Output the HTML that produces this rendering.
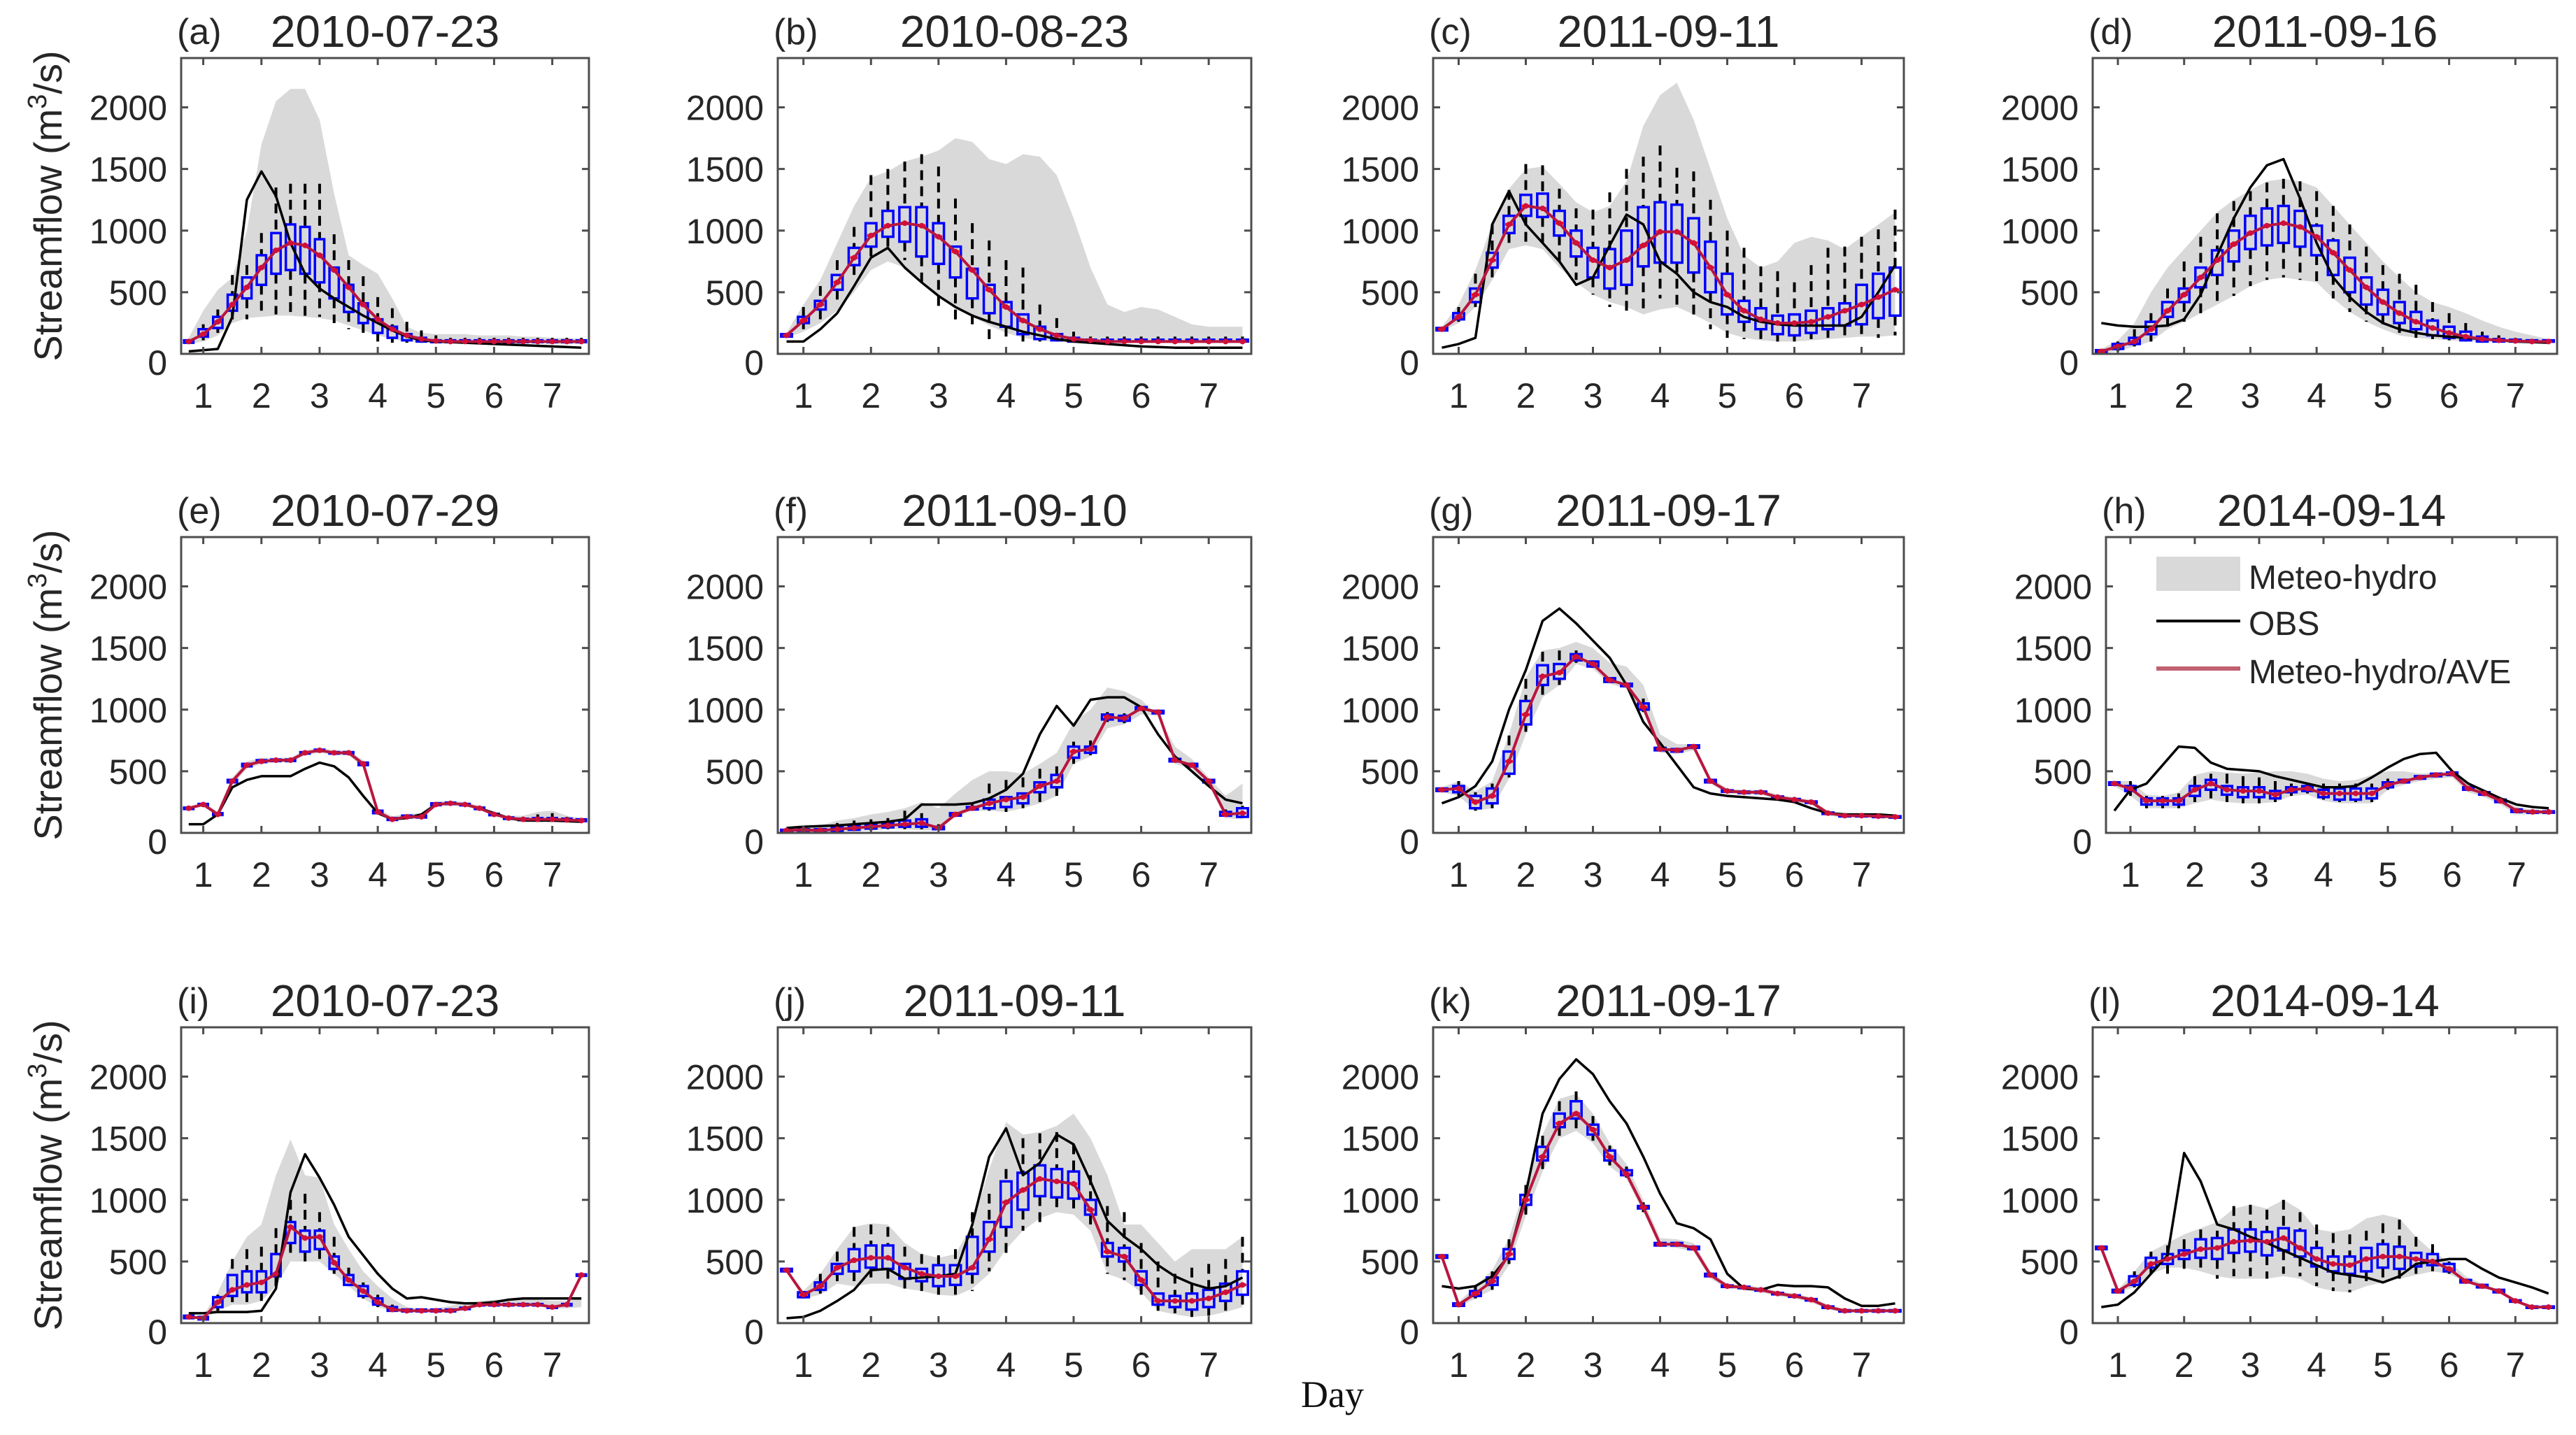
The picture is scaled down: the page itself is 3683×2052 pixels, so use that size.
<!DOCTYPE html>
<html><head><meta charset="utf-8"><style>
html,body{margin:0;padding:0;background:#fff;}
svg{display:block;}
text{font-family:"Liberation Sans",sans-serif;fill:#262626;}
</style></head><body>
<svg id="fig" width="3683" height="2052" viewBox="0 0 3683 2052" xmlns="http://www.w3.org/2000/svg">
<rect width="3683" height="2052" fill="#fff"/>
<text x="1905" y="2012" text-anchor="middle" style="font-family:'Liberation Serif',serif;font-size:54px;fill:#111">Day</text>
</svg>
<script>
const times=[0.75,1,1.25,1.5,1.75,2,2.25,2.5,2.75,3,3.25,3.5,3.75,4,4.25,4.5,4.75,5,5.25,5.5,5.75,6,6.25,6.5,6.75,7,7.25,7.5];
const xTicks=[1,2,3,4,5,6,7];
const yTicks=[0,500,1000,1500,2000];
const titles=["2010-07-23","2010-08-23","2011-09-11","2011-09-16","2010-07-29","2011-09-10","2011-09-17","2014-09-14","2010-07-23","2011-09-11","2011-09-17","2014-09-14"];
const letters=["(a)","(b)","(c)","(d)","(e)","(f)","(g)","(h)","(i)","(j)","(k)","(l)"];

const aObs=[20,30,40,300,1250,1480,1280,900,650,530,450,380,310,250,190,140,110,100,95,90,85,80,75,70,65,60,55,50];
const aAve=[100,160,260,400,540,700,840,900,880,800,680,540,400,280,200,150,120,105,100,100,100,100,100,100,100,100,100,100];
const aQ1=[90,140,210,350,450,560,650,680,650,580,450,340,250,170,130,110,100,95,95,95,95,95,95,95,95,95,95,95];
const aQ3=[110,200,300,480,620,800,980,1050,1030,930,700,560,410,280,220,160,130,110,110,110,110,110,110,110,110,110,110,110];
const aWlo=[80,110,170,280,280,300,320,330,300,300,250,200,150,100,90,90,90,90,90,90,90,90,90,90,90,90,90,90];
const aWhi=[120,240,360,640,720,980,1350,1380,1380,1380,970,760,630,460,370,260,190,150,130,130,130,130,130,130,130,130,130,130];
const aLo=[80,100,150,250,290,300,310,310,300,290,270,230,190,150,120,100,95,90,90,90,90,90,85,85,85,80,80,80];
const aHi=[130,350,520,620,1000,1700,2050,2150,2150,1900,1300,800,720,650,450,220,170,160,160,160,150,150,150,140,140,130,130,120];

const bObs=[100,100,200,330,550,780,860,700,580,470,380,310,260,220,180,150,120,100,90,80,70,60,55,50,50,50,50,50];
const bAve=[150,270,400,580,780,960,1040,1060,1040,950,830,680,520,380,270,200,150,120,110,100,100,100,100,100,100,100,100,100];
const bQ1=[140,250,360,520,720,870,950,910,790,730,620,450,330,220,160,120,110,100,100,100,100,100,100,100,100,100,100,100];
const bQ3=[160,300,430,640,860,1060,1160,1190,1190,1060,870,690,560,420,320,220,160,130,115,115,115,115,115,115,115,115,115,115];
const bWlo=[130,200,280,400,600,760,840,760,570,380,250,200,120,100,100,100,100,100,95,95,95,95,95,95,95,95,95,95];
const bWhi=[170,380,550,760,1030,1450,1500,1560,1620,1520,1260,1060,920,760,700,400,290,180,140,140,140,140,140,140,140,140,140,140];
const bLo=[130,180,250,350,500,680,750,700,600,480,380,300,230,170,130,110,100,95,90,90,90,90,90,90,90,90,90,90];
const bHi=[170,400,600,900,1200,1430,1480,1560,1600,1650,1750,1720,1580,1540,1620,1600,1450,1100,700,400,340,380,360,300,240,220,220,220];

const cObs=[50,80,130,1050,1320,1050,900,750,560,620,880,1130,1050,750,650,500,420,380,300,260,240,230,230,230,230,300,500,720];
const cAve=[200,300,480,760,1050,1200,1180,1060,900,760,700,760,880,990,990,900,700,480,350,280,250,250,260,300,350,400,460,520];
const cQ1=[190,280,420,700,980,1120,1110,960,790,620,530,560,710,740,740,660,500,320,260,200,160,150,170,200,230,240,290,310];
const cQ3=[210,330,530,820,1120,1290,1300,1160,1000,860,850,1000,1190,1230,1210,1100,910,650,430,370,310,320,350,370,410,560,650,700];
const cWlo=[180,260,380,600,880,900,850,700,600,480,380,300,350,450,380,300,200,130,120,100,100,100,120,130,130,160,130,150];
const cWhi=[220,380,650,1050,1330,1540,1530,1340,1180,1170,1310,1500,1600,1690,1510,1480,1250,1000,860,710,670,580,720,860,870,950,1010,1170];
const cLo=[180,250,380,600,850,880,850,700,580,480,420,380,320,360,380,320,250,170,130,110,100,100,110,120,130,140,140,150];
const cHi=[220,400,680,1050,1340,1500,1520,1380,1230,1150,1200,1400,1850,2100,2200,1900,1500,1100,800,700,750,900,950,920,850,950,1050,1150];

const dObs=[250,230,220,220,230,280,480,800,1100,1350,1530,1580,1260,900,620,460,340,250,200,170,150,140,130,120,110,100,95,90];
const dAve=[20,60,100,200,350,480,620,760,890,980,1040,1060,1030,950,820,680,540,420,330,260,210,170,140,120,110,105,100,100];
const dQ1=[10,40,80,160,300,420,540,640,750,850,880,900,870,800,640,500,400,320,250,200,150,130,110,100,100,100,100,100];
const dQ3=[30,80,130,260,420,530,700,840,1000,1120,1180,1200,1160,1040,920,780,620,520,420,340,270,220,180,140,120,115,110,110];
const dWlo=[5,20,60,100,200,260,330,400,470,550,600,620,600,580,450,340,260,200,150,130,120,110,100,100,95,95,95,95];
const dWhi=[40,100,200,330,530,750,950,1140,1240,1320,1390,1420,1400,1320,1200,1050,870,720,650,560,420,330,250,180,150,130,120,120];
const dLo=[5,20,60,100,200,260,330,400,470,550,600,620,600,580,450,340,260,200,150,130,120,110,100,100,95,95,90,90];
const dHi=[40,110,250,500,700,850,1000,1150,1250,1330,1400,1420,1400,1350,1200,1050,900,750,620,500,420,380,330,270,220,180,150,120];

const eObs=[70,70,150,370,430,460,460,460,520,570,540,450,300,160,110,120,150,230,240,230,200,160,120,100,100,100,95,90];
const eAve=[200,230,150,420,550,580,590,590,650,670,650,650,560,170,110,130,130,230,240,230,200,150,120,110,110,110,105,100];
const eQ1=[195,225,145,410,540,575,585,585,645,665,645,645,550,160,105,125,125,225,235,225,195,145,115,105,100,100,100,95];
const eQ3=[205,235,160,430,560,590,595,595,655,675,655,655,570,180,120,140,140,240,245,235,205,155,125,115,120,120,115,110];
const eWlo=[190,220,140,400,530,570,580,580,640,660,640,640,540,150,100,120,120,220,230,220,190,140,110,100,90,90,95,90];
const eWhi=[210,240,170,440,570,600,600,600,660,680,660,660,580,190,130,150,150,250,250,240,210,160,130,130,150,160,130,120];
const eLo=[190,220,140,390,520,560,570,570,630,650,630,630,530,150,100,115,115,215,225,215,185,140,110,100,90,90,90,90];
const eHi=[215,245,175,450,580,610,610,610,670,690,670,670,590,200,135,155,160,255,260,250,220,170,140,140,170,180,140,120];

const fObs=[40,50,55,60,70,80,90,110,230,230,230,240,280,350,480,800,1030,870,1080,1100,1100,1020,800,620,500,380,270,240];
const fAve=[20,25,20,30,40,50,60,70,80,40,150,200,240,270,290,380,420,660,680,940,930,1010,980,590,550,420,150,160];
const fQ1=[15,20,10,15,25,35,45,50,50,30,140,190,200,210,240,330,370,610,650,920,910,1000,970,580,540,410,140,130];
const fQ3=[25,30,30,45,60,70,80,100,110,50,160,210,270,290,320,410,470,700,700,960,950,1020,990,600,560,430,170,200];
const fWlo=[10,15,5,10,15,20,30,30,30,20,130,180,180,170,200,240,300,560,630,900,890,990,960,570,530,400,130,120];
const fWhi=[30,40,40,80,100,110,120,180,160,70,170,230,400,430,450,520,540,740,750,980,970,1030,1000,610,570,440,190,220];
const fLo=[10,15,5,10,15,20,30,30,20,20,130,180,180,170,200,240,300,560,620,850,880,960,950,560,520,390,120,110];
const fHi=[40,50,60,100,120,150,170,200,250,200,320,430,500,500,480,560,650,900,1000,1180,1150,1080,950,700,600,450,300,400];

const gObs=[240,290,380,580,1000,1320,1720,1820,1700,1560,1420,1200,900,730,550,370,320,300,290,280,270,250,200,160,150,150,150,140];
const gAve=[350,360,250,300,580,960,1270,1300,1430,1370,1240,1200,1020,680,670,700,420,340,330,330,290,270,250,160,140,140,135,130];
const gQ1=[340,330,200,240,480,880,1200,1250,1400,1350,1225,1190,1000,670,660,690,410,335,325,325,285,265,245,155,135,135,130,125];
const gQ3=[360,380,300,360,660,1070,1360,1370,1450,1390,1255,1210,1050,690,680,710,430,345,335,335,295,275,255,165,145,145,140,135];
const gWlo=[330,300,180,200,450,820,1100,1200,1380,1340,1220,1180,980,660,650,680,400,330,320,320,280,260,240,150,130,130,125,120];
const gWhi=[370,420,330,400,790,1250,1470,1480,1480,1400,1260,1220,1090,700,690,720,440,350,340,340,300,280,260,170,150,150,145,140];
const gLo=[330,300,180,200,440,800,1100,1200,1370,1330,1210,1170,980,650,640,670,400,320,310,310,270,250,230,140,125,125,120,115];
const gHi=[370,420,340,420,800,1260,1480,1500,1550,1500,1380,1350,1200,800,720,720,450,360,350,350,310,290,270,180,160,155,150,145];

const hObs=[180,350,400,550,700,690,570,520,510,500,460,430,400,370,370,380,450,530,600,640,650,500,400,340,280,230,210,200];
const hAve=[400,360,260,260,260,350,400,350,340,340,310,350,360,320,320,320,320,390,420,450,470,480,360,320,260,180,170,170];
const hQ1=[390,340,230,230,230,300,350,310,290,290,280,330,340,290,270,270,280,370,410,440,460,470,350,310,250,170,165,165];
const hQ3=[410,380,280,280,280,380,430,380,370,370,340,370,380,350,360,360,360,410,430,460,480,490,370,330,270,190,175,175];
const hWlo=[380,300,200,200,200,250,280,250,240,240,250,300,320,270,250,250,250,350,400,430,450,460,340,300,240,160,160,160];
const hWhi=[420,420,300,300,320,460,480,480,460,450,420,400,400,400,400,400,400,440,440,470,490,500,380,340,280,200,180,180];
const hLo=[380,300,200,200,200,240,270,250,240,240,250,300,310,260,240,240,240,350,390,420,440,450,330,290,230,150,150,150];
const hHi=[420,420,310,300,330,470,500,490,480,490,500,500,480,440,420,430,470,500,500,480,490,500,390,350,290,210,190,180];

const iObs=[80,80,90,90,90,100,280,1060,1370,1180,960,700,550,400,280,200,210,190,170,160,160,170,190,200,200,200,200,200];
const iAve=[50,40,170,270,310,330,400,780,690,700,490,350,260,170,110,100,100,100,100,120,150,150,150,150,150,130,150,390];
const iQ1=[40,30,130,220,250,250,380,650,580,600,440,310,220,150,100,95,95,95,95,115,145,145,145,145,145,125,145,385];
const iQ3=[60,50,210,390,420,420,560,820,750,750,540,390,300,200,130,110,110,110,110,125,155,155,155,155,155,135,155,395];
const iWlo=[35,25,100,170,150,180,300,520,500,500,400,300,200,130,95,90,90,90,90,110,140,140,140,140,140,120,140,380];
const iWhi=[65,55,230,520,600,620,770,1000,1050,900,700,450,330,230,150,120,120,120,120,130,160,160,160,160,160,140,160,400];
const iLo=[40,30,100,150,150,180,300,500,500,500,400,300,200,130,100,90,90,90,100,110,130,140,140,140,140,120,120,130];
const iHi=[60,60,250,500,700,800,1200,1490,1200,1180,800,600,420,300,200,130,120,120,140,170,180,190,190,200,190,180,180,200];

const jObs=[40,50,100,180,270,430,440,360,370,380,400,800,1350,1580,1200,1300,1530,1450,1150,830,700,600,470,380,320,280,300,370];
const jAve=[430,230,300,450,510,530,530,450,400,380,380,450,680,980,1080,1170,1150,1130,920,580,540,350,180,180,180,200,250,310];
const jQ1=[420,210,270,400,420,450,440,360,340,300,310,400,580,780,920,1030,1020,1010,880,540,500,310,150,130,110,130,180,230];
const jQ3=[440,250,330,480,600,630,630,480,440,470,470,700,820,1150,1220,1280,1250,1230,1000,650,610,420,240,220,240,270,320,420];
const jWlo=[410,200,240,340,300,330,330,280,260,230,210,260,420,570,750,820,900,880,750,400,350,220,100,80,50,60,90,130];
const jWhi=[450,260,400,580,780,800,780,620,560,550,600,900,1050,1250,1500,1540,1550,1450,1200,950,900,650,500,400,450,480,520,700];
const jLo=[420,200,230,320,300,320,320,280,260,230,220,280,400,600,750,850,900,880,750,400,350,250,100,70,50,60,90,130];
const jHi=[440,260,400,600,780,810,800,650,560,530,560,800,1250,1630,1530,1550,1600,1700,1500,1200,800,800,650,500,600,600,600,700];

const kObs=[300,280,300,380,550,1050,1700,1980,2140,2020,1800,1620,1350,1050,810,770,680,400,280,270,310,300,300,290,200,140,140,160];
const kAve=[540,150,240,340,560,1000,1350,1620,1700,1570,1350,1210,940,640,640,610,390,300,290,270,240,220,190,130,100,100,100,100];
const kQ1=[530,140,220,310,520,960,1320,1590,1660,1530,1320,1200,930,630,630,600,380,295,285,265,235,215,185,125,95,95,95,95];
const kQ3=[550,160,260,370,600,1040,1430,1700,1800,1610,1400,1240,950,650,650,620,400,305,295,275,245,225,195,135,105,105,105,105];
const kWlo=[520,130,200,270,480,880,1250,1520,1580,1480,1280,1180,900,620,620,590,370,290,280,260,230,210,180,120,90,90,90,90];
const kWhi=[560,170,300,420,680,1120,1520,1800,1880,1680,1440,1270,980,660,660,630,410,310,300,280,250,230,200,140,110,110,110,110];
const kLo=[520,130,200,270,470,870,1230,1500,1560,1460,1270,1170,900,620,610,580,360,280,270,250,220,200,170,110,85,85,85,85];
const kHi=[560,170,300,430,690,1130,1530,1820,1860,1700,1460,1290,1000,690,680,650,420,320,310,290,260,240,210,150,115,115,115,115];

const lObs=[130,150,250,400,550,1380,1150,800,760,700,650,590,530,470,410,390,370,330,380,480,500,520,520,440,370,330,290,240];
const lAve=[610,260,340,480,520,560,600,610,660,670,660,690,610,520,480,470,520,540,540,520,500,440,340,300,260,180,130,130];
const lQ1=[600,250,310,450,480,520,530,520,570,580,550,590,540,460,420,400,420,450,440,460,470,420,330,290,250,175,125,125];
const lQ3=[620,270,380,530,560,590,680,690,760,760,740,770,750,610,540,540,610,640,620,570,560,480,350,310,270,185,135,135];
const lWlo=[590,240,290,400,400,430,410,360,380,380,360,400,380,300,260,250,300,340,360,400,420,400,320,280,240,170,120,120];
const lWhi=[630,280,420,580,630,680,760,750,950,960,920,1000,900,800,730,720,750,810,840,700,640,500,360,320,280,190,140,140];
const lLo=[600,250,290,400,450,450,420,380,360,360,360,380,360,290,260,250,300,330,360,390,420,400,330,290,250,170,130,130];
const lHi=[620,270,420,580,650,720,770,820,930,960,930,1000,920,760,740,760,850,880,850,700,580,500,380,320,270,190,140,140];

const panelData=[
 [aObs,aAve,aQ1,aQ3,aWlo,aWhi,aLo,aHi],[bObs,bAve,bQ1,bQ3,bWlo,bWhi,bLo,bHi],
 [cObs,cAve,cQ1,cQ3,cWlo,cWhi,cLo,cHi],[dObs,dAve,dQ1,dQ3,dWlo,dWhi,dLo,dHi],
 [eObs,eAve,eQ1,eQ3,eWlo,eWhi,eLo,eHi],[fObs,fAve,fQ1,fQ3,fWlo,fWhi,fLo,fHi],
 [gObs,gAve,gQ1,gQ3,gWlo,gWhi,gLo,gHi],[hObs,hAve,hQ1,hQ3,hWlo,hWhi,hLo,hHi],
 [iObs,iAve,iQ1,iQ3,iWlo,iWhi,iLo,iHi],[jObs,jAve,jQ1,jQ3,jWlo,jWhi,jLo,jHi],
 [kObs,kAve,kQ1,kQ3,kWlo,kWhi,kLo,kHi],[lObs,lAve,lQ1,lQ3,lWlo,lWhi,lLo,lHi]];

const colL=[[259,842],[1112,1789],[2049,2722],[2992,3656]];
const rowL=[[83,506],[768,1191],[1469,1892]];
const NS="http://www.w3.org/2000/svg";
const svg=document.getElementById('fig');
function mk(tag,attrs,parent){const e=document.createElementNS(NS,tag);for(const k in attrs)e.setAttribute(k,attrs[k]);(parent||svg).appendChild(e);return e;}

for(let p=0;p<12;p++){
  const r=Math.floor(p/4),c=p%4;
  let L=colL[c][0],R=colL[c][1];
  if(p===7)L=3011;
  const T=rowL[r][0],B=rowL[r][1];
  const X0=0.62,X1=7.63,Y1=2400;
  const sx=v=>L+(v-X0)/(X1-X0)*(R-L);
  const sy=v=>B-v/Y1*(B-T);
  const [obs,ave,q1,q3,wlo,whi,lo,hi]=panelData[p];
  const g=mk('g',{});
  
  
  let pts=times.map((t,i)=>sx(t)+','+sy(hi[i]));
  pts=pts.concat(times.map((t,i)=>sx(t)+','+sy(lo[i])).reverse());
  const band=mk('polygon',{points:pts.join(' '),fill:'#d9d9d9',stroke:'none'},g);
  
  
  const bw=(0.16/(X1-X0))*(R-L);
  times.forEach((t,i)=>{
    const x=sx(t);
    const w1=mk('line',{x1:x,x2:x,y1:sy(whi[i]),y2:sy(q3[i]),stroke:'#000','stroke-width':4,'stroke-dasharray':'14 9'},g);
    
    
    const w2=mk('line',{x1:x,x2:x,y1:sy(q1[i]),y2:sy(wlo[i]),stroke:'#000','stroke-width':4,'stroke-dasharray':'14 9'},g);
    
    
  });
  times.forEach((t,i)=>{
    const x=sx(t);
    const bx=mk('rect',{x:x-bw/2,y:sy(q3[i]),width:bw,height:Math.max(2,sy(q1[i])-sy(q3[i])),fill:'none',stroke:'#0000ff','stroke-width':3.5},g);
    
    
    const md=mk('line',{x1:x-bw*0.35,x2:x+bw*0.35,y1:sy(ave[i]),y2:sy(ave[i]),stroke:'#ff0000','stroke-width':4},g);
    
    
  });
  const ol=mk('polyline',{points:times.map((t,i)=>sx(t)+','+sy(obs[i])).join(' '),fill:'none',stroke:'#000','stroke-width':3.5,'stroke-linejoin':'round'},g);
  
  
  const al=mk('polyline',{points:times.map((t,i)=>sx(t)+','+sy(ave[i])).join(' '),fill:'none',stroke:'#b8163f','stroke-width':4,'stroke-linejoin':'round'},g);
  
  
  times.forEach((t,i)=>{
    const d=mk('circle',{cx:sx(t),cy:sy(ave[i]),r:4,fill:'#d0103a'},g);
    
    
  });
  const fr=mk('rect',{x:L,y:T,width:R-L,height:B-T,fill:'none',stroke:'#4d4d4d','stroke-width':3},g);
  
  
  xTicks.forEach(v=>{
    const x=sx(v);
    mk('line',{x1:x,x2:x,y1:B,y2:B-10,stroke:'#4d4d4d','stroke-width':3},g);
    mk('line',{x1:x,x2:x,y1:T,y2:T+10,stroke:'#4d4d4d','stroke-width':3},g);
    const tl=mk('text',{x:x,y:B+77,'text-anchor':'middle','font-size':50},g);
    tl.textContent=String(v);
    
    
  });
  yTicks.forEach(v=>{
    const y=sy(v);
    mk('line',{x1:L,x2:L+10,y1:y,y2:y,stroke:'#4d4d4d','stroke-width':3},g);
    mk('line',{x1:R,x2:R-10,y1:y,y2:y,stroke:'#4d4d4d','stroke-width':3},g);
    const tl=mk('text',{x:L-20,y:y+18+(v===0?12:0),'text-anchor':'end','font-size':50},g);
    tl.textContent=String(v);
    
    
  });
  const tt=mk('text',{x:(L+R)/2,y:T-16,'text-anchor':'middle','font-size':64,fill:'#000'},g);
  tt.textContent=titles[p];
  
  
  const lt=mk('text',{x:L-6,y:T-20,'font-size':52,fill:'#000'},g);
  lt.textContent=letters[p];
  
  
  if(c===0){
    const yl=mk('text',{x:0,y:0,'text-anchor':'middle','font-size':56,transform:'translate(88,'+((T+B)/2)+') rotate(-90)'},g);
    yl.innerHTML='Streamflow (m<tspan dy="-22" font-size="38">3</tspan><tspan dy="22">/s)</tspan>';
    
    
  }
}
const lg=mk('g',{});


const lp=mk('rect',{x:3083,y:796,width:120,height:49,fill:'#d9d9d9'},lg);


const t1=mk('text',{x:3215,y:842,'font-size':48,fill:'#111'},lg);t1.textContent='Meteo-hydro';


const l2=mk('line',{x1:3083,x2:3203,y1:888,y2:888,stroke:'#000','stroke-width':4},lg);


const t2=mk('text',{x:3215,y:908,'font-size':48,fill:'#111'},lg);t2.textContent='OBS';


const l3=mk('line',{x1:3083,x2:3203,y1:956,y2:956,stroke:'#c06070','stroke-width':6},lg);


const t3=mk('text',{x:3215,y:977,'font-size':48,fill:'#111'},lg);t3.textContent='Meteo-hydro/AVE';


</script>
</body></html>
